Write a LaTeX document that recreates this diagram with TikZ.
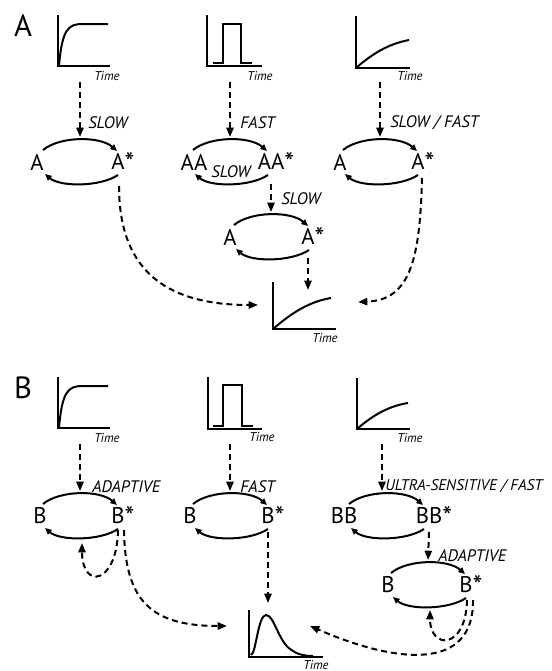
\documentclass[tikz,border=0pt]{standalone}
\usepackage{fontspec}
\setmainfont{PT Sans}
\usetikzlibrary{arrows.meta,calc}

% reaction cycle: two curved arrows between a species and its active form
% #1 = name, #2 = centre x, #3 = centre y
\newcommand\rxcycle[3]{%
  \coordinate (#1-tl) at ({#2-37},{#3-12});
  \coordinate (#1-tr) at ({#2+37},{#3-11});
  \coordinate (#1-br) at ({#2+38},{#3+13});
  \coordinate (#1-bl) at ({#2-35},{#3+12});
  \coordinate (#1-in) at (#2,{#3-25});
  \draw[react] (#1-tl) .. controls ({#2-20},{#3-26}) and ({#2+20},{#3-26}) .. (#1-tr);
  \draw[react] (#1-br) .. controls ({#2+20},{#3+25}) and ({#2-20},{#3+25}) .. (#1-bl);
}
% active-form marker
\newcommand\act{\raisebox{-2pt}{\fontsize{21}{21}\selectfont *}}

\begin{document}
\begin{tikzpicture}[x=0.75pt,y=-0.75pt,
  axis/.style={line width=1.5pt},
  sig/.style={line width=1.5pt},
  react/.style={line width=1.5pt,-{Triangle[length=5pt,width=4.4pt]}},
  flow/.style={line width=1.5pt,dash pattern=on 4.5pt off 3pt,-{Triangle[length=7pt,width=5.4pt]}},
  mol/.style={font=\fontsize{17}{17}\selectfont,inner sep=0pt},
  rate/.style={font=\itshape\fontsize{12.5}{12.5}\selectfont,anchor=west,inner sep=0pt},
  tm/.style={font=\itshape\fontsize{9.5}{9.5}\selectfont,inner sep=0pt},
  panel/.style={font=\fontsize{23}{23}\selectfont,inner sep=0pt}]
\useasboundingbox (0,0) rectangle (551,671);

% ---------------- Panel A ----------------
\node[panel] (pA) at (23,26) {A};

% input signals
\draw[axis] (58,15) |- (110,66);
\draw[sig] (59,66) .. controls (62,30) and (68,24) .. (82,24) -- (108,24);
\node[tm] (tA1) at (107,76) {Time};
\coordinate (gA1) at (80,82);

\draw[axis] (207,15) |- (262,66);
\draw[sig] (213,63) -- (223,63) -- (223,24) -- (241,24) -- (241,63) -- (252,63);
\node[tm] (tA2) at (260,76) {Time};
\coordinate (gA2) at (230,82);

\draw[axis] (356,16) |- (410,68);
\draw[sig] (356,68) .. controls (372,54) and (388,44) .. (409,40);
\node[tm] (tA3) at (410,76) {Time};
\coordinate (gA3) at (380,82);

% cycles
\rxcycle{ca1}{80}{162}
\node[mol] (a1) at (37,162) {A};
\node[mol] (a1s) at (123,162) {A\act};
\node[rate] (ra1) at (88,123) {SLOW};
\draw[flow] (gA1) -- (ca1-in);

\rxcycle{ca2}{230}{162}
\node[mol] (aa2) at (194,162) {AA};
\node[mol] (aa2s) at (276,162) {AA\act};
\node[rate,anchor=center] (ra2b) at (231,172) {SLOW};
\node[rate] (ra2) at (240,123) {FAST};
\draw[flow] (gA2) -- (ca2-in);

\rxcycle{ca3}{380}{162}
\node[mol] (a3) at (340,162) {A};
\node[mol] (a3s) at (423,162) {A\act};
\node[rate] (ra3) at (390,123) {SLOW / FAST};
\draw[flow] (gA3) -- (ca3-in);

\rxcycle{ca4}{271}{237}
\node[mol] (a4) at (230,237) {A};
\node[mol] (a4s) at (313,237) {A\act};
\node[rate] (ra4) at (281,199) {SLOW};
\coordinate (ca2-out) at (271,184);
\draw[flow] (ca2-out) -- (ca4-in);

% output response
\draw[axis] (273,282) |- (336,329);
\draw[sig] (273,329) .. controls (287,317) and (306,302) .. (331,298);
\node[tm] (tAo) at (325,338) {Time};
\coordinate (oAl) at (258,305);
\coordinate (oAt) at (308,290);
\coordinate (oAr) at (358,302);

\coordinate (ca1-out) at (119,186);
\coordinate (ca3-out) at (422,178);
\coordinate (ca4-out) at (308,258);
\draw[flow] (ca1-out) .. controls (119,265) and (160,305) .. (oAl);
\draw[flow] (ca4-out) -- (oAt);
\draw[flow] (ca3-out) .. controls (420,260) and (410,300) .. (oAr);

% ---------------- Panel B ----------------
\node[panel] (pB) at (23,388) {B};

\draw[axis] (58,377) |- (110,428);
\draw[sig] (59,428) .. controls (62,392) and (68,386) .. (82,386) -- (108,386);
\node[tm] (tB1) at (107,438) {Time};
\coordinate (gB1) at (80,444);

\draw[axis] (208,377) |- (262,429);
\draw[sig] (213,426) -- (223,426) -- (223,385) -- (242,385) -- (242,426) -- (253,426);
\node[tm] (tB2) at (262,437) {Time};
\coordinate (gB2) at (230,444);

\draw[axis] (357,378) |- (410,429);
\draw[sig] (357,429) .. controls (373,415) and (389,406) .. (408,403);
\node[tm] (tB3) at (410,438) {Time};
\coordinate (gB3) at (382,444);

\rxcycle{cb1}{80}{516}
\node[mol] (b1) at (40,516) {B};
\node[mol] (b1s) at (123,516) {B\act};
\node[rate] (rb1) at (92,487) {ADAPTIVE};
\draw[flow] (gB1) -- (cb1-in);

\rxcycle{cb2}{230}{516}
\node[mol] (b2) at (190,516) {B};
\node[mol] (b2s) at (273,516) {B\act};
\node[rate] (rb2) at (240,487) {FAST};
\draw[flow] (gB2) -- (cb2-in);

\rxcycle{cb3}{386}{516}
\node[mol] (bb3) at (344,516) {BB};
\node[mol] (bb3s) at (434,516) {BB\act};
\node[rate,font=\itshape\fontsize{11.6}{11.6}\selectfont] (rb3) at (385,486) {ULTRA-SENSITIVE / FAST};
\coordinate (gB3in) at (382,491);
\draw[flow] (gB3) -- (gB3in);

\rxcycle{cb4}{428}{585}
\node[mol] (b4) at (388,585) {B};
\node[mol] (b4s) at (471,585) {B\act};
\node[rate] (rb4) at (438,556) {ADAPTIVE};
\coordinate (cb3-out) at (429,532);
\draw[flow] (cb3-out) -- (cb4-in);

% output response
\draw[axis] (249,610) |- (323,657);
\draw[sig] (251,655) .. controls (256,654) and (258,615) .. (266,615)
  .. controls (274,615) and (278,640) .. (290,649)
  .. controls (298,655) and (305,656) .. (313,656);
\node[tm] (tBo) at (316,665) {Time};
\coordinate (oBl) at (227,626);
\coordinate (oBt) at (268,603);
\coordinate (oBr) at (310,626);

% feedback loops and outputs
\coordinate (cb1-fa) at (118,530);
\coordinate (cb1-fb) at (124,530);
\coordinate (cb1-fin) at (82,543);
\draw[flow] (cb1-fa) .. controls (117,585) and (82,590) .. (cb1-fin);
\draw[flow] (cb1-fb) .. controls (125,600) and (150,626) .. (oBl);

\coordinate (cb2-out) at (268,532);
\draw[flow] (cb2-out) -- (oBt);

\coordinate (cb4-fa) at (467,600);
\coordinate (cb4-fb) at (473,600);
\coordinate (cb4-fin) at (430,610);
\draw[flow] (cb4-fa) .. controls (466,650) and (430,650) .. (cb4-fin);
\draw[flow] (cb4-fb) .. controls (474,670) and (400,665) .. (oBr);
\end{tikzpicture}
\end{document}
